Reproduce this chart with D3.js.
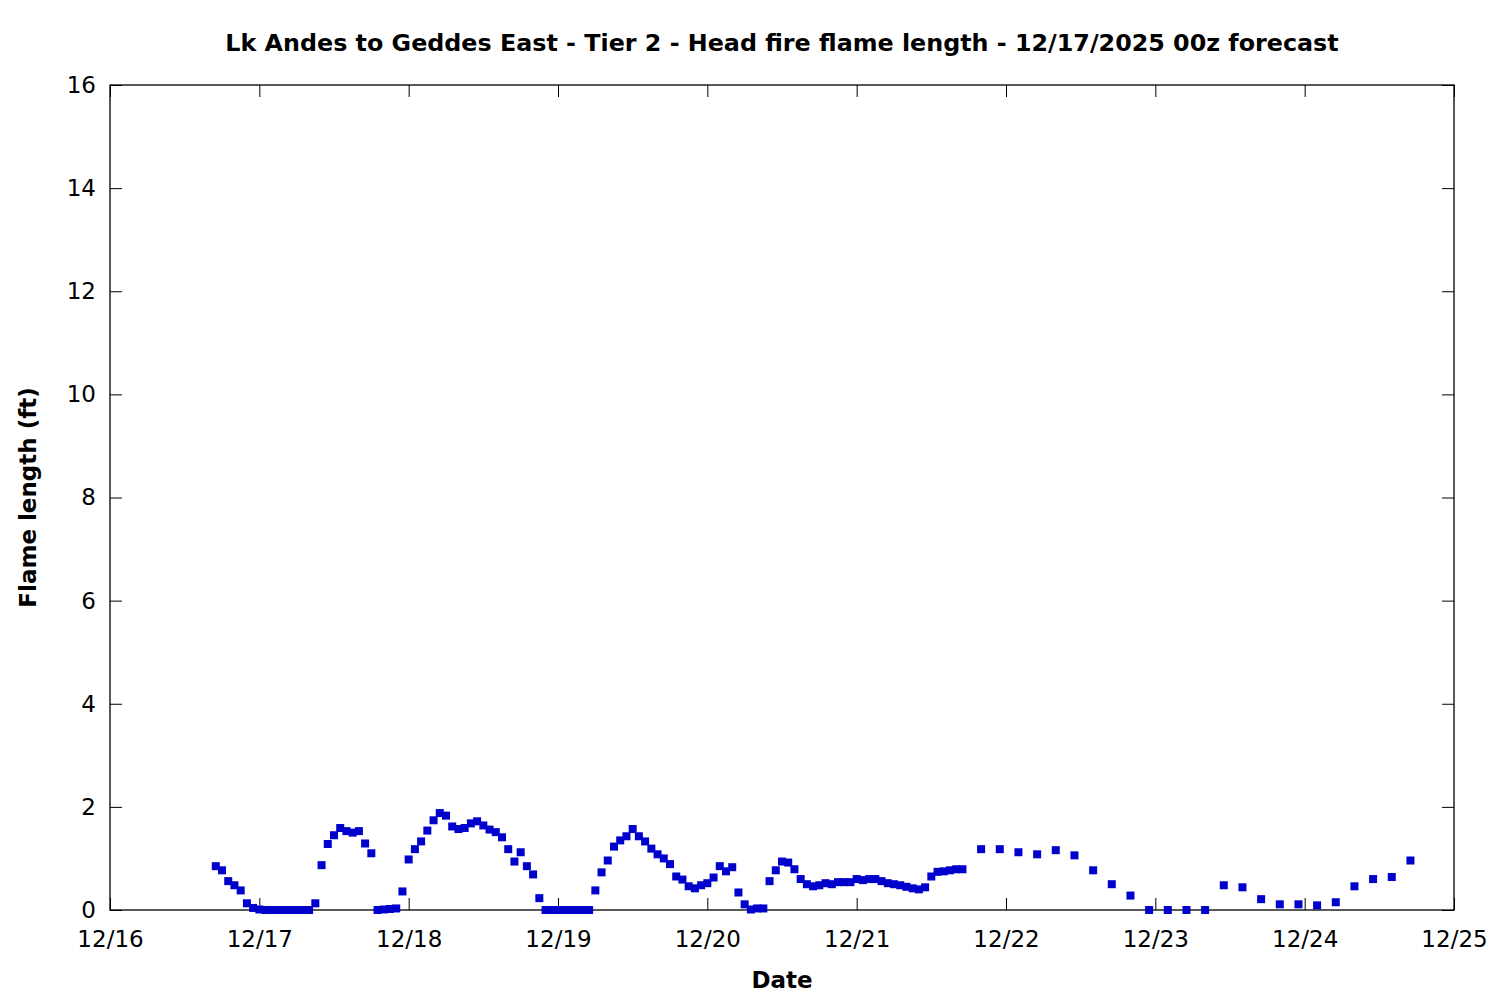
<!DOCTYPE html>
<html>
<head>
<meta charset="utf-8">
<script src="https://cdn.jsdelivr.net/npm/d3@7"></script>
<style>
  body { margin: 0; background: #fff; }
  text { font-family: "DejaVu Sans", sans-serif; fill: #000; }
</style>
</head>
<body>
<div id="chart"></div>
<script>
// forecast values (ft) - hourly run, then 3-hourly run
const hourlyStart = "2025-12-16T17:00:00Z";
const hourlyValues = [
  0.85, 0.77, 0.56, 0.48, 0.38, 0.13, 0.04, 0.01,
  0, 0, 0, 0, 0, 0, 0, 0,
  0.13, 0.87, 1.28, 1.45, 1.59, 1.53, 1.50, 1.53, 1.29, 1.10,
  0.0, 0.01, 0.02, 0.03, 0.36, 0.98, 1.18, 1.33, 1.54, 1.74, 1.88, 1.83,
  1.62, 1.57, 1.59, 1.68, 1.72, 1.64, 1.56, 1.51, 1.41, 1.18, 0.94, 1.12,
  0.85, 0.69, 0.23,
  0, 0, 0, 0, 0, 0, 0, 0,
  0.38, 0.73, 0.96, 1.23, 1.35, 1.43, 1.57, 1.43, 1.33, 1.19, 1.08, 1.00,
  0.89, 0.65, 0.59, 0.46, 0.42, 0.48, 0.52, 0.63, 0.85, 0.75, 0.83, 0.34,
  0.11, 0.01, 0.03, 0.03, 0.56, 0.77, 0.94, 0.92, 0.79, 0.60, 0.50, 0.46,
  0.48, 0.52, 0.50, 0.54, 0.54, 0.54, 0.60, 0.58, 0.60, 0.60, 0.56, 0.52,
  0.50, 0.48, 0.45, 0.42, 0.40, 0.44, 0.65, 0.74, 0.75, 0.77, 0.79, 0.79
];
const threeHourlyStart = "2025-12-21T20:00:00Z";
const threeHourlyValues = [
  1.18, 1.18, 1.12, 1.08, 1.16, 1.06, 0.77, 0.50, 0.28, 0, 0, 0,
  0, 0.48, 0.44, 0.21, 0.11, 0.11, 0.09, 0.15, 0.46, 0.60, 0.64, 0.96
];
const yTicks = [0, 2, 4, 6, 8, 10, 12, 14, 16];

const title = "Lk Andes to Geddes East - Tier 2 - Head fire flame length - 12/17/2025 00z forecast";

const width = 1500, height = 1000;
const margin = {top: 85, left: 110, right: 46, bottom: 90};

// build points on the time grid of each run
function series(start, step, values) {
  const t0 = new Date(start);
  return values.map(function(v, i) {
    return {time: d3.utcHour.offset(t0, i * step), value: v};
  });
}
const data = series(hourlyStart, 1, hourlyValues)
  .concat(series(threeHourlyStart, 3, threeHourlyValues));

const svg = d3.select("#chart")
  .append("svg")
  .attr("width", width)
  .attr("height", height);

const xScale = d3.scaleUtc()
  .domain([new Date("2025-12-16T00:00:00Z"), new Date("2025-12-25T00:00:00Z")])
  .range([margin.left, width - margin.right]);

const yScale = d3.scaleLinear()
  .domain([0, 16])
  .range([height - margin.bottom, margin.top]);

const fmt = d3.utcFormat("%m/%d");
const dayTicks = d3.utcDay.range(xScale.domain()[0], d3.utcDay.offset(xScale.domain()[1], 1));

// axes, ticks pointing inward on all 4 sides
svg.append("g")
  .attr("transform", `translate(0,${height - margin.bottom})`)
  .call(d3.axisBottom(xScale).tickValues(dayTicks).tickFormat(fmt)
    .tickSizeInner(-12).tickSizeOuter(0).tickPadding(21));

svg.append("g")
  .attr("transform", `translate(0,${margin.top})`)
  .call(d3.axisTop(xScale).tickValues(dayTicks).tickFormat("")
    .tickSizeInner(-12).tickSizeOuter(0));

svg.append("g")
  .attr("transform", `translate(${margin.left},0)`)
  .call(d3.axisLeft(yScale).tickValues(yTicks)
    .tickSizeInner(-12).tickSizeOuter(0).tickPadding(14));

svg.append("g")
  .attr("transform", `translate(${width - margin.right},0)`)
  .call(d3.axisRight(yScale).tickValues(yTicks).tickFormat("")
    .tickSizeInner(-12).tickSizeOuter(0));

svg.selectAll(".domain").remove();
svg.selectAll(".tick line").attr("stroke", "#000").attr("stroke-width", 1);
svg.selectAll(".tick text")
  .attr("font-family", "DejaVu Sans")
  .attr("font-size", 23)
  .attr("fill", "#000");

// border
svg.append("rect")
  .attr("x", margin.left)
  .attr("y", margin.top)
  .attr("width", width - margin.left - margin.right)
  .attr("height", height - margin.top - margin.bottom)
  .attr("fill", "none")
  .attr("stroke", "#000")
  .attr("stroke-width", 1.3);

// points
const size = 8;
svg.append("g")
  .selectAll("rect")
  .data(data)
  .enter().append("rect")
    .attr("x", function(d) { return xScale(d.time) - size / 2; })
    .attr("y", function(d) { return yScale(d.value) - size / 2; })
    .attr("width", size)
    .attr("height", size)
    .attr("fill", "#0000cc");

// labels
svg.append("text")
  .attr("x", (margin.left + width - margin.right) / 2)
  .attr("y", 51)
  .attr("text-anchor", "middle")
  .attr("font-size", 23.8)
  .attr("font-weight", "bold")
  .text(title);

svg.append("text")
  .attr("x", (margin.left + width - margin.right) / 2)
  .attr("y", 988)
  .attr("text-anchor", "middle")
  .attr("font-size", 23)
  .attr("font-weight", "bold")
  .text("Date");

svg.append("text")
  .attr("transform", "rotate(-90)")
  .attr("x", -(margin.top + height - margin.bottom) / 2)
  .attr("y", 36)
  .attr("text-anchor", "middle")
  .attr("font-size", 23)
  .attr("font-weight", "bold")
  .text("Flame length (ft)");
</script>
</body>
</html>
